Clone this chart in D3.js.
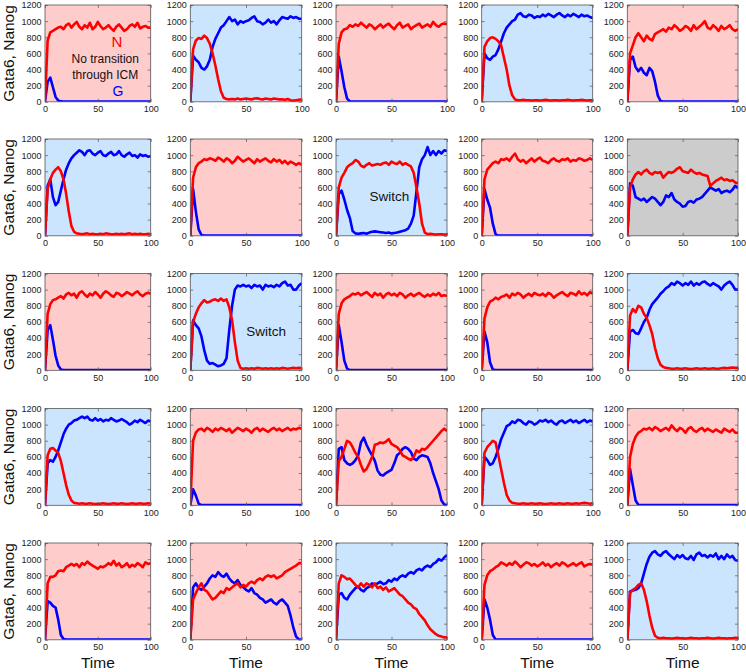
<!DOCTYPE html>
<html><head><meta charset="utf-8">
<script src="https://cdn.jsdelivr.net/npm/d3@7"></script>
<style>body{margin:0;background:#fff}svg{display:block}</style>
</head><body>
<svg id="chart" width="746" height="672"></svg>
<script>
// ---------------- DATA ----------------
const times = [0,2.5,5,7.5,10,12.5,15,17.5,20,22.5,25,27.5,30,32.5,35,37.5,40,42.5,45,47.5,50,52.5,55,57.5,60,62.5,65,67.5,70,72.5,75,77.5,80,82.5,85,87.5,90,92.5,95,97.5,100];
const yTicks = [0,200,400,600,800,1000,1200];
const xTicks = [0,50,100];
const panelState = ["pink","blue","pink","blue","pink",
                    "blue","pink","blue","pink","gray",
                    "pink","blue","pink","pink","blue",
                    "blue","pink","pink","blue","pink",
                    "pink","pink","blue","pink","blue"];
const yLabel = "Gata6, Nanog";
const xLabel = "Time";

// Nanog (N, red) and Gata6 (G, blue) per panel, sampled at `times`
const N01 = [0,760,860,880,900,920,930,900,950,970, 920,960,990,930,900,950,920,980,900,930, 990,940,900,920,950,910,880,930,960,920, 880,900,940,960,930,980,910,930,940,920, 920];
const G01 = [0,250,300,180,60,15,5,3,3,3, 3,3,3,3,3,3,3,3,3,3, 3,3,3,3,3,3,3,3,3,3, 3,3,3,3,3,3,3,3,3,3, 3];
const N02 = [0,650,760,790,780,820,790,720,600,450, 280,130,50,35,30,35,30,40,30,35, 40,35,30,40,45,35,30,40,35,30, 40,35,30,30,25,35,20,15,20,25, 30];
const G02 = [0,570,520,490,420,400,440,520,680,780, 850,920,950,1000,1050,1000,1020,960,1000,980, 1000,1010,1040,1060,1000,990,960,980,1020,980, 1000,960,1010,1050,1040,1030,1060,1040,1050,1030, 1030];
const N03 = [0,720,860,900,910,950,930,960,940,980, 950,920,960,940,900,930,960,920,950,970, 930,900,950,980,920,940,960,900,930,950, 970,920,940,960,930,990,950,930,960,970, 960];
const G03 = [0,560,380,180,40,5,3,3,3,3, 3,3,3,3,3,3,3,3,3,3, 3,3,3,3,3,3,3,3,3,3, 3,3,3,3,3,3,3,3,3,3, 3];
const N04 = [0,680,750,790,800,780,750,700,550,400, 200,80,30,20,20,25,20,20,15,20, 20,15,20,25,20,15,20,20,15,20, 20,25,20,15,20,20,25,20,15,20, 20];
const G04 = [0,600,540,520,560,580,650,750,850,920, 960,1000,1020,1080,1100,1060,1050,1080,1070,1040, 1060,1050,1080,1060,1090,1070,1050,1080,1100,1070, 1050,1080,1060,1090,1070,1050,1080,1060,1070,1050, 1040];
const N05 = [0,600,700,800,850,800,750,820,780,760, 840,860,880,900,870,920,900,950,920,880, 900,940,920,880,950,900,930,960,1000,920, 900,950,920,880,940,900,920,950,900,880, 900];
const G05 = [0,520,560,430,380,420,360,330,420,380, 250,80,10,3,3,3,3,3,3,3, 3,3,3,3,3,3,3,3,3,3, 3,3,3,3,3,3,3,3,3,3, 3];
const N06 = [0,580,700,780,820,850,800,700,520,300, 120,50,30,25,20,25,30,20,25,20, 20,25,20,30,25,20,20,25,20,25, 20,25,30,20,25,20,25,20,20,25, 20];
const G06 = [0,620,700,480,380,420,560,700,820,900, 960,1000,1030,1060,1040,1000,1050,1060,1020,1000, 1030,1050,1000,990,1020,1040,1000,1010,1050,1000, 980,1010,1030,990,1000,970,1010,990,1000,980, 990];
const N07 = [0,720,850,900,920,950,940,960,950,930, 970,950,920,960,940,900,930,980,950,920, 940,960,930,900,950,920,940,960,930,910, 950,920,940,900,930,890,920,900,880,900, 880];
const G07 = [0,580,300,80,10,3,3,3,3,3, 3,3,3,3,3,3,3,3,3,3, 3,3,3,3,3,3,3,3,3,3, 3,3,3,3,3,3,3,3,3,3, 3];
const N08 = [0,600,720,780,850,880,900,940,920,870, 850,880,900,870,880,890,880,900,910,880, 920,900,890,920,880,900,880,860,780,600, 400,150,40,20,25,20,15,20,20,15, 20];
const G08 = [0,520,560,450,320,220,60,30,25,30, 35,25,40,50,55,50,45,40,35,40, 30,35,40,50,60,70,90,150,250,550, 850,950,1000,1100,1000,1050,1000,1050,1020,1060, 1050];
const N09 = [0,700,820,860,900,920,900,950,940,960, 930,980,1020,950,920,940,900,930,960,920, 950,970,930,920,900,940,960,930,920,950, 940,960,920,940,930,960,950,930,940,960, 940];
const G09 = [0,580,450,350,150,20,3,3,3,3, 3,3,3,3,3,3,3,3,3,3, 3,3,3,3,3,3,3,3,3,3, 3,3,3,3,3,3,3,3,3,3, 3];
const N10 = [0,600,700,760,790,760,800,820,780,760, 790,780,790,720,760,790,780,800,830,850, 800,790,780,820,790,770,780,760,750,740, 620,650,680,700,720,690,700,680,690,660, 650];
const G10 = [0,650,620,480,460,440,460,420,450,480, 460,420,380,420,500,480,530,450,420,400, 360,370,420,430,410,450,460,480,520,560, 600,580,560,580,530,550,560,540,570,620, 590];
const N11 = [0,700,820,870,880,900,920,890,940,960, 930,950,900,960,980,940,910,950,930,970, 940,900,950,980,960,930,910,960,950,920, 940,970,950,930,960,980,940,920,950,960, 950];
const G11 = [0,500,560,380,180,60,10,3,3,3, 3,3,3,3,3,3,3,3,3,3, 3,3,3,3,3,3,3,3,3,3, 3,3,3,3,3,3,3,3,3,3, 3];
const N12 = [0,600,700,780,830,870,840,850,870,880, 860,890,860,880,780,620,350,120,30,20, 25,20,25,20,30,25,20,25,20,25, 20,25,20,30,25,20,25,30,25,30, 25];
const G12 = [0,620,560,520,420,250,120,80,90,70, 50,60,80,150,500,800,1000,1050,1040,1060, 1040,1050,1020,1060,1040,1050,1000,1060,1040,1050, 1030,1060,1040,1080,1100,1050,1060,1000,1000,1050, 1080];
const N13 = [0,700,830,880,900,920,950,940,960,930, 950,970,940,910,960,930,950,900,940,960, 930,950,920,960,940,900,930,950,920,940, 960,930,910,940,920,950,930,960,920,930, 920];
const G13 = [0,560,350,120,20,3,3,3,3,3, 3,3,3,3,3,3,3,3,3,3, 3,3,3,3,3,3,3,3,3,3, 3,3,3,3,3,3,3,3,3,3, 3];
const N14 = [0,640,780,850,870,900,880,910,920,940, 900,950,930,960,940,900,930,950,920,960, 940,930,950,920,960,940,900,930,950,970, 940,920,960,950,930,980,940,960,930,970, 950];
const G14 = [0,480,350,100,10,3,3,3,3,3, 3,3,3,3,3,3,3,3,3,3, 3,3,3,3,3,3,3,3,3,3, 3,3,3,3,3,3,3,3,3,3, 3];
const N15 = [0,680,760,720,800,780,700,650,560,450, 280,150,70,40,30,25,20,20,25,20, 20,25,20,15,20,25,20,20,25,20, 20,25,20,20,25,30,25,30,35,30, 30];
const G15 = [0,480,500,460,450,520,600,650,750,820, 860,900,950,980,1020,1040,1080,1060,1100,1080, 1050,1080,1060,1100,1050,1080,1060,1090,1100,1070, 1050,1080,1060,1040,1000,1050,1080,1100,1060,1000, 1000];
const N16 = [0,620,700,710,680,650,550,400,250,130, 60,30,25,20,25,20,20,25,20,15, 20,20,25,20,15,20,25,20,20,25, 20,15,20,25,20,20,25,20,20,25, 20];
const G16 = [0,520,560,540,600,680,780,880,950,1000, 1020,1050,1060,1080,1100,1080,1100,1060,1050,1080, 1050,1070,1040,1060,1050,1080,1060,1040,1050,1070, 1050,1030,1000,1020,1050,1030,1060,1040,1020,1050, 1040];
const N17 = [0,800,900,940,950,920,960,940,910,950, 930,960,940,920,950,900,930,960,940,920, 950,930,900,940,960,920,950,930,910,940, 960,930,950,920,940,960,930,950,940,960, 950];
const G17 = [0,200,120,20,3,3,3,3,3,3, 3,3,3,3,3,3,3,3,3,3, 3,3,3,3,3,3,3,3,3,3, 3,3,3,3,3,3,3,3,3,3, 3];
const N18 = [0,550,600,700,800,780,720,650,600,500, 420,450,520,600,750,760,780,770,790,820, 760,740,720,680,620,600,580,560,600,680, 660,700,690,720,760,800,840,880,920,950, 920];
const G18 = [0,700,720,560,520,500,520,560,620,780, 840,750,680,620,550,430,380,370,400,420, 440,520,620,650,700,720,700,660,580,560, 600,620,610,600,520,400,300,200,60,10, 3];
const N19 = [0,650,720,760,800,780,620,450,280,130, 60,30,25,20,20,25,20,20,25,20, 20,25,20,15,20,25,20,20,25,20, 20,25,20,20,25,20,25,30,25,20, 25];
const G19 = [0,600,560,500,520,600,700,820,900,980, 1000,1040,1020,1060,1050,1020,1000,1040,1030,1000, 1020,1050,1040,1060,1030,1050,1020,1000,1040,1050, 1020,1040,1060,1030,1050,1020,1040,1060,1030,1050, 1040];
const N20 = [0,600,760,850,900,920,950,940,960,930, 970,950,920,940,960,930,990,950,920,960, 940,900,950,970,930,910,940,960,920,950, 930,910,940,920,900,950,930,910,940,900, 900];
const G20 = [0,450,250,60,5,3,3,3,3,3, 3,3,3,3,3,3,3,3,3,3, 3,3,3,3,3,3,3,3,3,3, 3,3,3,3,3,3,3,3,3,3, 3];
const N21 = [0,700,780,780,800,850,860,850,900,920, 940,920,940,900,950,930,970,940,920,900, 880,910,900,920,950,930,980,920,950,900, 920,950,900,930,910,950,930,900,960,940, 950];
const G21 = [0,480,460,420,400,250,60,10,3,3, 3,3,3,3,3,3,3,3,3,3, 3,3,3,3,3,3,3,3,3,3, 3,3,3,3,3,3,3,3,3,3, 3];
const N22 = [0,500,580,650,700,620,600,550,500,520, 560,600,580,640,620,650,680,700,650,680, 660,700,720,700,740,760,740,780,800,780, 800,760,780,800,840,860,880,900,920,950, 950];
const G22 = [0,650,700,640,620,660,700,760,800,780, 840,800,780,820,760,720,700,740,680,650, 620,600,640,580,560,520,500,460,480,500, 460,440,480,500,460,420,300,150,40,5, 3];
const N23 = [0,700,800,780,750,760,720,680,650,700, 660,700,680,650,700,640,660,620,650,600, 620,640,600,560,540,500,460,440,400,380, 320,280,240,180,130,100,70,50,40,30, 30];
const G23 = [0,560,580,520,500,560,600,640,660,620, 600,640,660,700,680,700,720,690,700,740, 720,760,740,780,800,780,820,840,820,860, 880,860,900,920,900,940,960,1000,980,1020, 1050];
const N24 = [0,680,800,850,870,900,920,960,940,920, 950,930,970,940,900,930,960,950,920,940, 910,930,960,920,940,900,930,950,920,960, 940,910,930,950,920,940,960,910,930,940, 930];
const G24 = [0,500,400,250,60,5,3,3,3,3, 3,3,3,3,3,3,3,3,3,3, 3,3,3,3,3,3,3,3,3,3, 3,3,3,3,3,3,3,3,3,3, 3];
const N25 = [0,580,620,640,680,700,620,480,300,150, 50,25,20,25,20,20,15,20,25,20, 20,15,20,25,20,20,15,20,20,25, 20,15,20,25,20,20,15,20,20,25, 20];
const G25 = [0,600,610,620,640,700,820,940,1030,1080, 1100,1060,1040,1080,1100,1060,1030,1000,1050,1020, 1050,1010,1000,1040,990,1060,1080,1040,1050,1020, 1050,1030,1070,1000,1040,1000,1060,1020,1040,990, 980];

const nanogSeries = [N01,N02,N03,N04,N05,N06,N07,N08,N09,N10,N11,N12,N13,N14,N15,N16,N17,N18,N19,N20,N21,N22,N23,N24,N25];
const gata6Series = [G01,G02,G03,G04,G05,G06,G07,G08,G09,G10,G11,G12,G13,G14,G15,G16,G17,G18,G19,G20,G21,G22,G23,G24,G25];

// annotations: panel index, text, colour key, position in data units (time, level)
const notes = [
  {panel:0, text:"N", color:"red", t:68, v:685, size:15},
  {panel:0, text:"No transition", color:"black", t:57, v:475, size:12},
  {panel:0, text:"through ICM", color:"black", t:57, v:285, size:12},
  {panel:0, text:"G", color:"blue", t:69, v:75, size:14},
  {panel:7, text:"Switch", color:"black", t:48, v:430, size:13.5},
  {panel:11, text:"Switch", color:"black", t:68, v:430, size:13.5}
];

// ---------------- CHECK ----------------
[...nanogSeries, ...gata6Series].forEach((a,i)=>{ if(a.length!==times.length) throw new Error("length mismatch in series "+i+": "+a.length); });

// ---------------- LAYOUT ----------------
const colLeft  = [45, 190.3, 336, 481.7, 627.3];
const colRight = [150.7, 301.7, 447, 592.7, 738];
const rowTop   = [5, 139, 273.5, 408.5, 543];
const plotH = 96.8;
const bgColor = {pink:"#FFCCCC", blue:"#CCE5FF", gray:"#CCCCCC"};
const lineColor = {red:"#FF0000", blue:"#0000FF", black:"#111"};
const FONT = "'Liberation Sans', Arial, Helvetica, sans-serif";
const fmt = d3.format("d");

const svg = d3.select("#chart");

nanogSeries.forEach((nData, k) => {
  const row = Math.floor(k/5), col = k%5;
  const L = colLeft[col], T = rowTop[row], W = colRight[col]-colLeft[col], H = plotH;
  const x = d3.scaleLinear().domain([0,100]).range([0,W]);
  const y = d3.scaleLinear().domain([0,1200]).range([H,0]);
  const g = svg.append("g").attr("transform",`translate(${L},${T})`);

  g.append("rect").attr("width",W).attr("height",H).attr("fill",bgColor[panelState[k]]);

  const cid = "clip"+k;
  g.append("clipPath").attr("id",cid).append("rect").attr("x",0).attr("y",-1).attr("width",W).attr("height",H+1);

  const line = d3.line().x((d,i)=>x(times[i])).y(d=>y(d));
  const lines = g.append("g").attr("clip-path",`url(#${cid})`);
  lines.append("path").datum(gata6Series[k]).attr("d",line)
    .attr("fill","none").attr("stroke",lineColor.blue).attr("stroke-width",2.6).attr("stroke-linejoin","round");
  lines.append("path").datum(nData).attr("d",line)
    .attr("fill","none").attr("stroke",lineColor.red).attr("stroke-width",2.6).attr("stroke-linejoin","round");

  // axes with inward ticks
  const ax = (sel)=>{ sel.select(".domain").remove();
    sel.selectAll(".tick line").attr("stroke","#555").attr("stroke-width",0.7);
    sel.selectAll(".tick text").attr("fill","#222").style("font-family",FONT).style("font-size","9px"); };
  g.append("g").call(d3.axisLeft(y).tickValues(yTicks).tickFormat(fmt).tickSizeInner(-3).tickSizeOuter(0).tickPadding(3.5)).call(ax);
  g.append("g").attr("transform",`translate(0,${H})`)
    .call(d3.axisBottom(x).tickValues(xTicks).tickFormat(fmt).tickSizeInner(-3).tickSizeOuter(0).tickPadding(4)).call(ax);
  g.append("g").attr("transform",`translate(${W},0)`)
    .call(d3.axisRight(y).tickValues(yTicks).tickSizeInner(-3).tickSizeOuter(0).tickFormat("")).call(ax);
  g.append("g")
    .call(d3.axisTop(x).tickValues(xTicks).tickSizeInner(-3).tickSizeOuter(0).tickFormat("")).call(ax);

  g.append("rect").attr("width",W).attr("height",H).attr("fill","none")
    .attr("stroke","#555").attr("stroke-width",0.8);

  notes.filter(n=>n.panel===k).forEach(n=>{
    g.append("text").attr("x",x(n.t)).attr("y",y(n.v)).attr("text-anchor","middle")
      .attr("fill",lineColor[n.color]).style("font-family",FONT).style("font-size",n.size+"px").text(n.text);
  });

  if (col===0) {
    svg.append("text").attr("transform",`translate(13.5,${T+H/2}) rotate(-90)`)
      .attr("text-anchor","middle").attr("fill","#111")
      .style("font-family",FONT).style("font-size","15.5px").text(yLabel);
  }
  if (row===4) {
    svg.append("text").attr("x",L+W/2).attr("y",668).attr("text-anchor","middle").attr("fill","#111")
      .style("font-family",FONT).style("font-size","15.5px").text(xLabel);
  }
});
</script>
</body></html>
